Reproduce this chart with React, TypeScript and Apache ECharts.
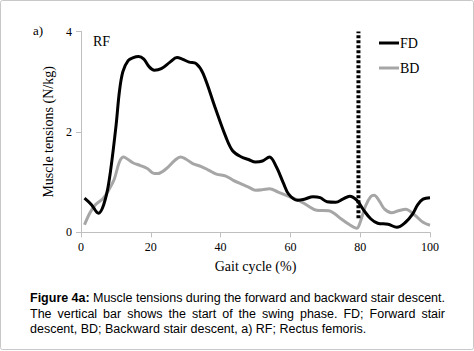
import React, { useEffect, useRef } from "react";
import * as echarts from "echarts";

const fdData: [number, number][] = [
  [1, 0.68], [3, 0.55], [5, 0.38], [6.5, 0.55], [8, 1.0], [10, 2.1], [11, 2.8], [12, 3.2],
  [13.5, 3.42], [15, 3.48], [16.5, 3.5], [18, 3.45], [19.5, 3.3], [21, 3.23], [23, 3.26],
  [25.5, 3.39], [27.5, 3.48], [29, 3.45], [31, 3.39], [33, 3.36], [35, 3.16], [38.5, 2.47],
  [41.5, 1.9], [43.5, 1.62], [46, 1.5], [48, 1.45], [50, 1.4], [52, 1.42], [54, 1.5],
  [56, 1.3], [58, 0.98], [59.5, 0.76], [62, 0.64], [64, 0.66], [66.5, 0.71], [68.5, 0.69],
  [70.5, 0.61], [73, 0.6], [75, 0.66], [77, 0.72], [79, 0.64], [81, 0.44], [83, 0.27],
  [85, 0.18], [88, 0.16], [90.5, 0.1], [93, 0.2], [95, 0.36], [96.5, 0.55], [98, 0.66],
  [100, 0.69],
];

const bdData: [number, number][] = [
  [1, 0.15], [2.5, 0.38], [4, 0.54], [6.4, 0.68], [8, 0.85], [9.5, 1.05], [11, 1.4],
  [12.2, 1.5], [13.5, 1.45], [15, 1.38], [17, 1.33], [19, 1.27], [21, 1.17], [22, 1.17],
  [24.5, 1.27], [27, 1.44], [28.5, 1.5], [30, 1.46], [32, 1.37], [34.5, 1.31], [36.5, 1.24],
  [38.8, 1.16], [41.5, 1.12], [43.5, 1.04], [46, 0.96], [48, 0.9], [50, 0.84], [52, 0.85],
  [54, 0.87], [56.5, 0.8], [59, 0.73], [62.5, 0.63], [65, 0.53], [67.5, 0.44], [71, 0.43],
  [72.5, 0.38], [74.5, 0.27], [77, 0.15], [79, 0.08], [80, 0.2], [81.5, 0.52], [83, 0.71],
  [84, 0.74], [85.5, 0.62], [87, 0.46], [89, 0.39], [91, 0.43], [93, 0.46], [95.5, 0.35],
  [98, 0.2], [100, 0.14],
];

const swingStart = 79.5;
const swingBar: [number, number][] = [[swingStart, 0.28], [swingStart, 4]];

const seriesNames = ["FD", "BD"];
const yAxisTitle = "Muscle tensions (N/kg)";
const xAxisTitle = "Gait cycle (%)";

const captionLine1: [string, boolean][] = [
  ["Figure", true], ["4a:", true], ["Muscle", false], ["tensions", false], ["during", false],
  ["the", false], ["forward", false], ["and", false], ["backward", false], ["stair", false],
  ["descent.", false],
];
const captionLine2 = "The vertical bar shows the start of the swing phase. FD; Forward stair";
const captionLine3 = "descent, BD; Backward stair descent, a) RF; Rectus femoris.";

const SERIF = "'Liberation Serif', 'Times New Roman', serif";
const SANS = "'Liberation Sans', Arial, sans-serif";
const CAP_SIZE = 12.5;

function justify(words: [string, boolean][], x0: number, x1: number, y: number) {
  const ctx = document.createElement("canvas").getContext("2d")!;
  const widths = words.map(([w, b]) => {
    ctx.font = `${b ? "bold " : ""}${CAP_SIZE}px ${SANS}`;
    return ctx.measureText(w).width;
  });
  const total = widths.reduce((a, b) => a + b, 0);
  const gap = (x1 - x0 - total) / (words.length - 1);
  let x = x0;
  return words.map(([w, b], i) => {
    const el = {
      type: "text",
      x,
      y,
      style: {
        text: w,
        fontFamily: SANS,
        fontSize: CAP_SIZE,
        fontWeight: b ? "bold" : "normal",
        fill: "#000",
        verticalAlign: "middle",
      },
    };
    x += widths[i] + gap;
    return el;
  });
}

export default function App() {
  const ref = useRef<HTMLDivElement>(null);
  useEffect(() => {
    if (!ref.current) return;
    const chart = echarts.init(ref.current, undefined, { renderer: "svg" });
    const line2Words: [string, boolean][] = captionLine2.split(" ").map((w) => [w, false]);
    chart.setOption({
      animation: false,
      backgroundColor: "#fff",
      grid: { left: 81, right: 44, top: 31.5, bottom: 118.7, containLabel: false },
      legend: {
        data: seriesNames,
        orient: "vertical",
        left: 379,
        top: 36,
        itemGap: 11,
        itemWidth: 20,
        itemHeight: 3,
        icon: "rect",
        padding: 0,
        textStyle: { fontFamily: SERIF, fontSize: 14, color: "#000", padding: [0, 0, 0, -4] },
      },
      xAxis: {
        type: "value",
        min: 0,
        max: 100,
        interval: 20,
        name: xAxisTitle,
        nameLocation: "middle",
        nameGap: 27,
        nameTextStyle: { fontFamily: SERIF, fontSize: 14, color: "#000" },
        axisLine: { lineStyle: { color: "#bfbfbf", width: 1 } },
        axisTick: { show: true, length: 5, lineStyle: { color: "#bfbfbf" } },
        axisLabel: { fontFamily: SERIF, fontSize: 12, color: "#000", margin: 9 },
        splitLine: { show: false },
      },
      yAxis: {
        type: "value",
        min: 0,
        max: 4,
        interval: 2,
        name: yAxisTitle,
        nameLocation: "middle",
        nameGap: 17,
        nameTextStyle: { fontFamily: SERIF, fontSize: 14, color: "#000" },
        axisLine: { show: true, lineStyle: { color: "#bfbfbf", width: 1 } },
        axisTick: { show: true, length: 5, lineStyle: { color: "#bfbfbf" } },
        axisLabel: { fontFamily: SERIF, fontSize: 12, color: "#000", margin: 9 },
        splitLine: { show: false },
      },
      series: [
        {
          name: seriesNames[0],
          type: "line",
          data: fdData,
          smooth: 0.35,
          symbol: "none",
          lineStyle: { color: "#000", width: 3 },
          itemStyle: { color: "#000" },
          z: 3,
        },
        {
          name: seriesNames[1],
          type: "line",
          data: bdData,
          smooth: 0.35,
          symbol: "none",
          lineStyle: { color: "#a6a6a6", width: 3 },
          itemStyle: { color: "#a6a6a6" },
          z: 2,
        },
        {
          name: "swing",
          type: "line",
          data: swingBar,
          symbol: "none",
          silent: true,
          lineStyle: { color: "#000", width: 4, type: [3, 2], cap: "butt" },
          z: 4,
        },
      ],
      graphic: [
        {
          type: "rect",
          shape: { x: 0.5, y: 0.5, width: 473, height: 349, r: 2 },
          style: { fill: "none", stroke: "#c8c8c8", lineWidth: 1 },
          silent: true,
        },
        {
          type: "text",
          left: 33,
          top: 24,
          style: { text: "a)", fontFamily: SERIF, fontSize: 13, fill: "#000" },
        },
        {
          type: "text",
          left: 93,
          top: 34,
          style: { text: "RF", fontFamily: SERIF, fontSize: 14, fill: "#000" },
        },
        ...justify(captionLine1, 30, 445, 297.5),
        ...justify(line2Words, 30, 445, 313.5),
        {
          type: "text",
          x: 30,
          y: 329,
          style: {
            text: captionLine3,
            fontFamily: SANS,
            fontSize: CAP_SIZE,
            fill: "#000",
            verticalAlign: "middle",
          },
        },
      ],
    });
    return () => chart.dispose();
  }, []);
  return (
    <div
      ref={ref}
      style={{ position: "fixed", left: 0, top: 0, width: 474, height: 351 }}
    />
  );
}
